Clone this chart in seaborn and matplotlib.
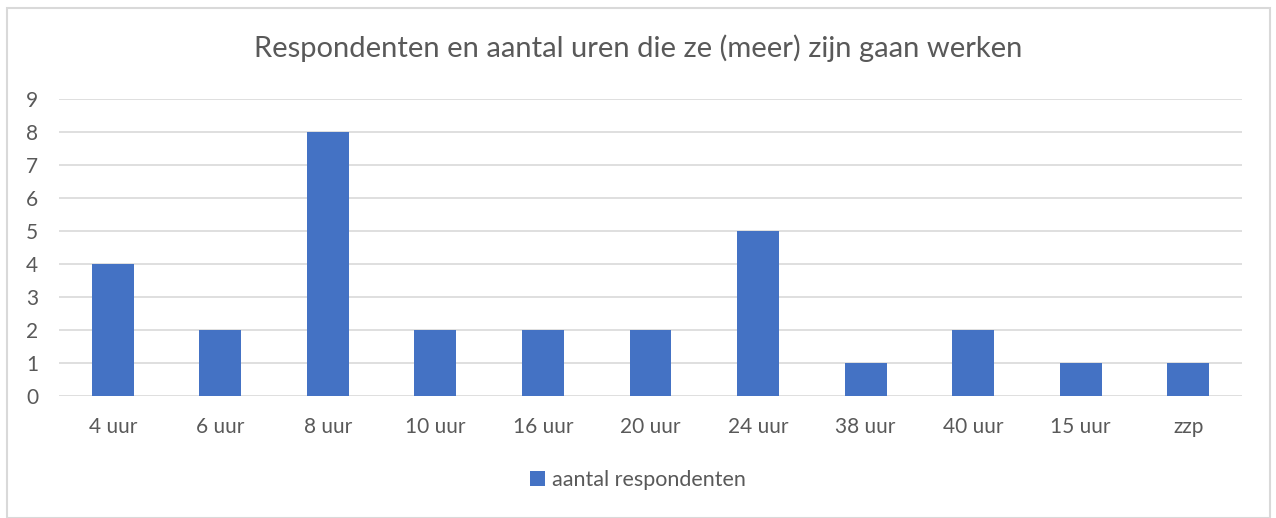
import matplotlib
matplotlib.use("Agg")
import matplotlib.pyplot as plt
import seaborn as sns
import pandas as pd
from matplotlib.patches import Rectangle

categories = ["4 uur", "6 uur", "8 uur", "10 uur", "16 uur", "20 uur", "24 uur", "38 uur", "40 uur", "15 uur", "zzp"]
values = [4, 2, 8, 2, 2, 2, 5, 1, 2, 1, 1]
series_name = "aantal respondenten"
title = "Respondenten en aantal uren die ze (meer) zijn gaan werken"

sns.set_style("white")
plt.rcParams['font.family'] = ['Lato', 'DejaVu Sans']

df = pd.DataFrame({"cat": categories, "val": values})
fig = plt.figure(figsize=(12.76, 5.18), dpi=100)
ax = fig.add_axes([59/1276, 1 - 396/518, (1242 - 59)/1276, (396 - 99)/518])

sns.barplot(data=df, x="cat", y="val", color="#4472C4", width=0.39, saturation=1, ax=ax,
            zorder=3, label=series_name, linewidth=0)

ax.set_ylim(0, 9)
ax.set_yticks(range(0, 10))
ax.set_xlim(-0.5, len(categories) - 0.5)
ax.grid(axis="y", color="#D9D9D9", linewidth=1.2, zorder=0)
ax.set_axisbelow(True)
for s in ax.spines.values():
    s.set_visible(False)
ax.set_xlabel("")
ax.set_ylabel("")
ax.tick_params(axis="both", length=0, labelsize=15, colors="#595959")
ax.tick_params(axis="x", pad=15)
ax.tick_params(axis="y", pad=15)
if ax.get_legend():
    ax.get_legend().remove()

fig.text(0.5, 1 - 48/518, title, ha="center", va="center", fontsize=21, color="#595959")

handles, labels = ax.get_legend_handles_labels()
fig.legend(handles, labels, loc="center", bbox_to_anchor=(0.5, 1 - 480/518), frameon=False,
           fontsize=15.5, labelcolor="#595959", handlelength=0.7, handleheight=0.7, handletextpad=0.3)

fig.patches.append(Rectangle((7/1276, 0), (1270 - 7)/1276, 1 - 8/518, transform=fig.transFigure,
                             fill=False, edgecolor="#D9D9D9", linewidth=1.5))

fig.savefig("out.png", dpi=100)
